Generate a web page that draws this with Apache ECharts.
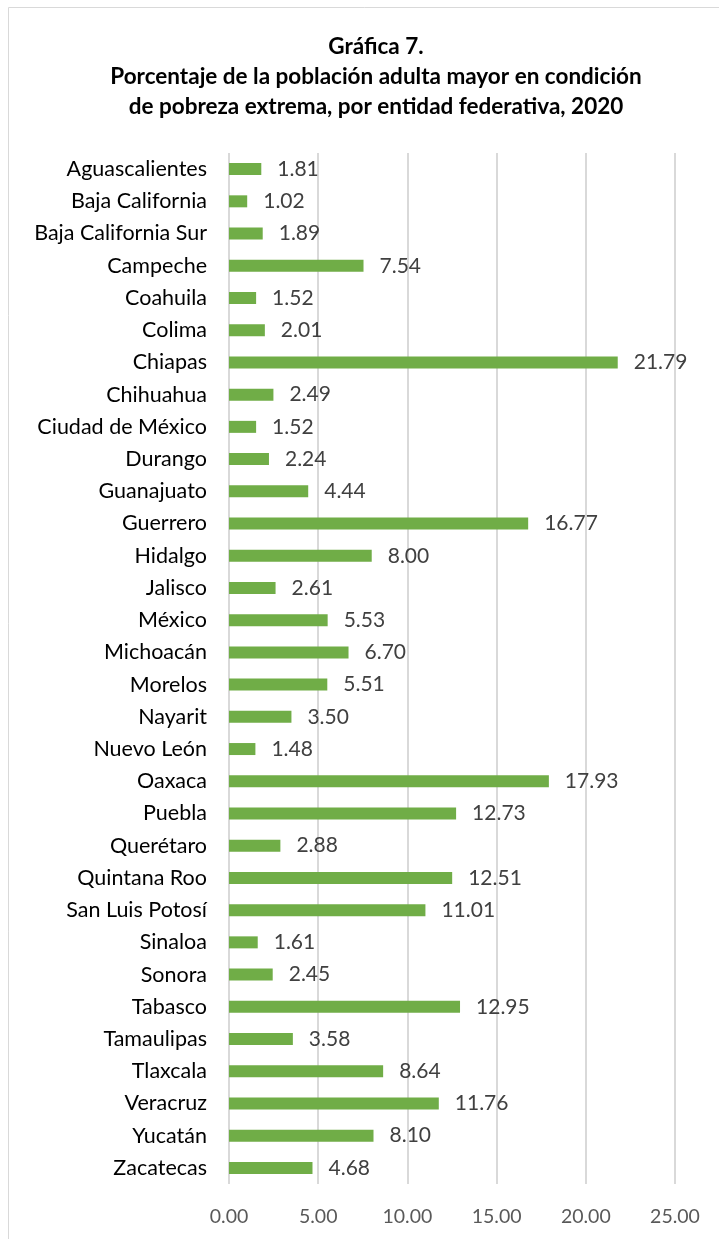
<!DOCTYPE html>
<html><head><meta charset="utf-8">
<script src="https://cdn.jsdelivr.net/npm/echarts@6/dist/echarts.min.js"></script>
<style>html,body{margin:0;padding:0;background:#fff}#c{width:719px;height:1239px}</style>
</head><body><div id="c"></div>
<script>
const categories = ["Aguascalientes","Baja California","Baja California Sur","Campeche","Coahuila","Colima","Chiapas","Chihuahua","Ciudad de México","Durango","Guanajuato","Guerrero","Hidalgo","Jalisco","México","Michoacán","Morelos","Nayarit","Nuevo León","Oaxaca","Puebla","Querétaro","Quintana Roo","San Luis Potosí","Sinaloa","Sonora","Tabasco","Tamaulipas","Tlaxcala","Veracruz","Yucatán","Zacatecas"];
const values = [1.81,1.02,1.89,7.54,1.52,2.01,21.79,2.49,1.52,2.24,4.44,16.77,8.00,2.61,5.53,6.70,5.51,3.50,1.48,17.93,12.73,2.88,12.51,11.01,1.61,2.45,12.95,3.58,8.64,11.76,8.10,4.68];
const titleLines = ["Gráfica 7.","Porcentaje de la población adulta mayor en condición","de pobreza extrema, por entidad federativa, 2020"];
const xTicks = [0,5,10,15,20,25];

const FONT = "Lato, 'Open Sans', sans-serif";
const chart = echarts.init(document.getElementById('c'));
chart.setOption({
  animation:false,
  graphic:[{type:'rect',shape:{x:8.5,y:7.5,width:730,height:1250},style:{fill:'none',stroke:'#d9d9d9',lineWidth:1}}],
  title:{text:titleLines.join('\n'),left:371,textAlign:'center',top:27,
    textStyle:{fontFamily:FONT,fontWeight:'bold',fontSize:22.5,lineHeight:30,color:'#000'}},
  grid:{left:229,right:44,top:153,bottom:55,containLabel:false},
  xAxis:{type:'value',min:xTicks[0],max:xTicks[xTicks.length-1],interval:xTicks[1]-xTicks[0],
    axisLine:{show:false},axisTick:{show:false},
    splitLine:{lineStyle:{color:'#d9d9d9',width:2}},
    axisLabel:{formatter:v=>v.toFixed(2),color:'#595959',fontFamily:FONT,fontSize:19.5,margin:23}},
  yAxis:{type:'category',data:categories,inverse:true,
    axisLine:{show:false},axisTick:{show:false},
    axisLabel:{color:'#000',fontFamily:FONT,fontSize:21.5,margin:22}},
  series:[{type:'bar',data:values,barWidth:12,itemStyle:{color:'#70AD47'},
    label:{show:true,position:'right',distance:16,formatter:p=>p.value.toFixed(2),
      color:'#404040',fontFamily:FONT,fontSize:21}}]
});
</script></body></html>
